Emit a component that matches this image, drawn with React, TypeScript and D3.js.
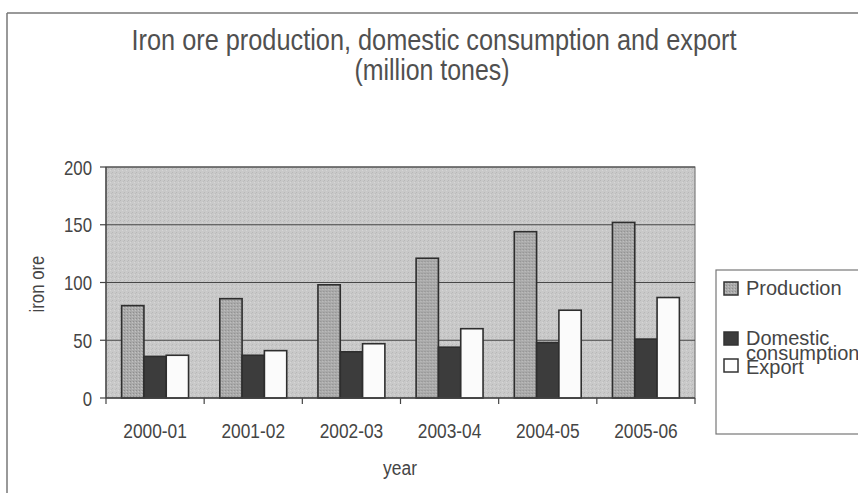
import React from 'react';
import * as d3 from 'd3';

const categories = ['2000-01', '2001-02', '2002-03', '2003-04', '2004-05', '2005-06'];
const production = [80, 86, 98, 121, 144, 152];
const domestic = [36, 37, 40, 44, 48, 51];
const exportVals = [37, 41, 47, 60, 76, 87];
const seriesNames = ['Production', 'Domestic consumption', 'Export'];
const yTicks = [0, 50, 100, 150, 200];

const W = 858;
const H = 493;
const FONT = "'Liberation Sans', Arial, sans-serif";
const TXT = '#454545';

function NText(props: { x: number; y: number; sx?: number; rotate?: number; anchor?: string; size?: number; fill?: string; children: React.ReactNode }) {
  const { x, y, sx = 0.84, rotate = 0, anchor = 'start', size = 20, fill = TXT, children } = props;
  return (
    <text
      transform={`translate(${x},${y}) rotate(${rotate}) scale(${sx},1)`}
      textAnchor={anchor}
      fontSize={size}
      fill={fill}
    >
      {children}
    </text>
  );
}

export default function App() {
  const left = 106, right = 695, top = 167, bottom = 398;
  const x = d3.scaleBand<string>().domain(categories).range([left, right]).paddingInner(0).paddingOuter(0);
  const x1 = d3.scaleBand<string>().domain(seriesNames).range([0, x.bandwidth()]).paddingInner(0).paddingOuter(0.7);
  const y = d3.scaleLinear().domain([0, 200]).range([bottom, top]);
  const seriesData = [production, domestic, exportVals];
  const fills = ['url(#prodPat)', '#3c3c3c', '#fbfbfb'];

  return (
    <svg width={W} height={H} style={{ position: 'absolute', left: 0, top: 0, background: '#fff' }} fontFamily={FONT}>
      <defs>
        <pattern id="bgPat" width="4" height="4" patternUnits="userSpaceOnUse">
          <rect width="4" height="4" fill="#c9c9c9" />
          <rect x="0" y="0" width="1" height="1" fill="#b7b7b7" />
          <rect x="2" y="2" width="1" height="1" fill="#d6d6d6" />
          <rect x="3" y="1" width="1" height="1" fill="#bdbdbd" />
        </pattern>
        <pattern id="prodPat" width="3" height="3" patternUnits="userSpaceOnUse">
          <rect width="3" height="3" fill="#aaaaaa" />
          <rect x="0" y="0" width="1" height="1" fill="#8e8e8e" />
          <rect x="2" y="1" width="1" height="1" fill="#c2c2c2" />
        </pattern>
      </defs>
      {/* outer frame */}
      <line x1={7} y1={13} x2={W} y2={13} stroke="#777" strokeWidth={1.5} />
      <line x1={7} y1={13} x2={7} y2={H} stroke="#777" strokeWidth={1.5} />

      {/* title */}
      <text x={434} y={50} textAnchor="middle" fontSize={30} fill="#505050" textLength={605} lengthAdjust="spacingAndGlyphs">
        Iron ore production, domestic consumption and export
      </text>
      <text x={432} y={80} textAnchor="middle" fontSize={30} fill="#505050" textLength={155} lengthAdjust="spacingAndGlyphs">
        (million tones)
      </text>

      {/* plot area */}
      <rect x={left} y={top} width={right - left} height={bottom - top} fill="url(#bgPat)" stroke="#666" strokeWidth={1} />
      {yTicks.filter(t => t > 0).map(t => (
        <line key={t} x1={left} x2={right} y1={y(t)} y2={y(t)} stroke="#474747" strokeWidth={1.2} />
      ))}

      {/* bars */}
      {categories.map((c, i) => (
        <g key={c} transform={`translate(${x(c)},0)`}>
          {seriesNames.map((s, j) => (
            <rect
              key={s}
              x={x1(s)}
              y={y(seriesData[j][i])}
              width={x1.bandwidth()}
              height={bottom - y(seriesData[j][i])}
              fill={fills[j]}
              stroke="#2e2e2e"
              strokeWidth={1.6}
            />
          ))}
        </g>
      ))}

      {/* axes */}
      <line x1={left} x2={left} y1={top} y2={bottom} stroke="#444" strokeWidth={1.3} />
      <line x1={left} x2={right} y1={bottom} y2={bottom} stroke="#444" strokeWidth={1.3} />
      {yTicks.map(t => (
        <g key={t}>
          <line x1={left - 6} x2={left} y1={y(t)} y2={y(t)} stroke="#444" strokeWidth={1.2} />
          <NText x={92} y={y(t) + 7.5} anchor="end" sx={0.84}>{t}</NText>
        </g>
      ))}
      {[...categories.map(c => x(c)!), right].map((v, i) => (
        <line key={i} x1={v} x2={v} y1={bottom} y2={bottom + 6} stroke="#444" strokeWidth={1.2} />
      ))}
      {categories.map(c => (
        <NText key={c} x={x(c)! + x.bandwidth() / 2} y={438} anchor="middle" sx={0.845} size={20.5}>{c}</NText>
      ))}
      <NText x={400} y={475} anchor="middle" sx={0.87}>year</NText>
      <NText x={44} y={284} anchor="middle" rotate={-90} sx={0.84}>iron ore</NText>

      {/* legend */}
      <rect x={716} y={270} width={160} height={164} fill="#fff" stroke="#777" strokeWidth={1.2} />
      <rect x={724} y={282} width={14} height={13} fill="url(#prodPat)" stroke="#333" strokeWidth={1.5} />
      <NText x={746} y={295} sx={1}>{seriesNames[0]}</NText>
      <rect x={724} y={332} width={14} height={13} fill="#3c3c3c" stroke="#333" strokeWidth={1.5} />
      <NText x={746} y={345} sx={1}>Domestic</NText>
      <NText x={746} y={360} sx={1}>consumption</NText>
      <rect x={724} y={359} width={14} height={13} fill="#fff" stroke="#333" strokeWidth={1.5} />
      <NText x={746} y={374} sx={1}>{seriesNames[2]}</NText>
    </svg>
  );
}
